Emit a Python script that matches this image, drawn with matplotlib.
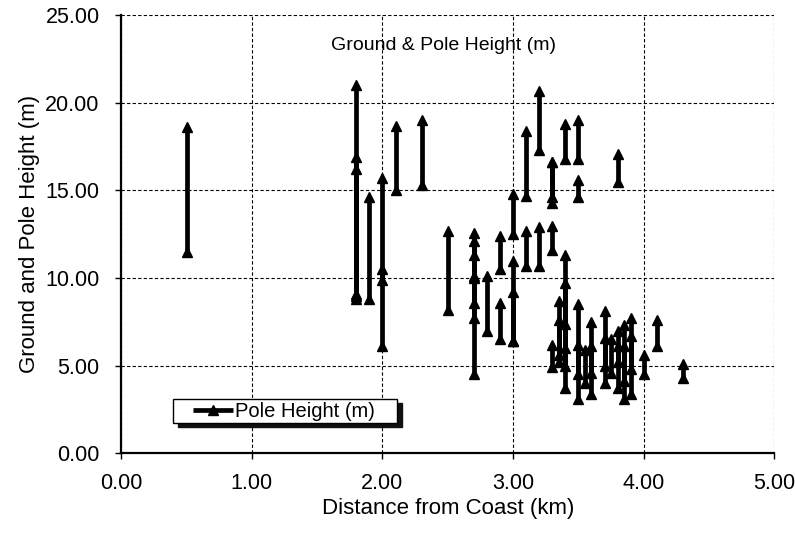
import numpy as np
import matplotlib
matplotlib.use("Agg")
import matplotlib.pyplot as plt
from matplotlib.legend_handler import HandlerLine2D

plt.rcParams['font.family'] = ['Liberation Sans', 'DejaVu Sans']

# Distance from coast (km), ground height (m) and ground + pole height (m)
pole_x = [0.5, 1.8, 1.8, 1.8, 1.9, 2.0, 2.0, 2.1, 2.3, 2.5,
          2.7, 2.7, 2.7, 2.7, 2.8, 2.9, 2.9, 3.0, 3.0, 3.0,
          3.1, 3.1, 3.2, 3.2, 3.3, 3.3, 3.3, 3.3, 3.35, 3.35,
          3.4, 3.4, 3.4, 3.4, 3.5, 3.5, 3.5, 3.5, 3.55, 3.6,
          3.6, 3.7, 3.7, 3.75, 3.8, 3.8, 3.8, 3.85, 3.85, 3.9,
          3.9, 4.0, 4.1, 4.3]
ground_h = [11.5, 8.8, 9.0, 9.1, 8.8, 6.1, 9.9, 15.0, 15.3, 8.2,
            4.5, 7.7, 8.6, 10.0, 7.0, 6.5, 10.5, 6.4, 6.4, 12.5,
            10.7, 14.7, 10.7, 17.3, 11.6, 14.3, 14.6, 4.9, 5.2, 5.6,
            3.7, 5.0, 6.0, 16.8, 3.1, 4.5, 14.6, 16.8, 4.0, 3.4,
            4.6, 4.0, 5.0, 4.6, 3.7, 5.2, 15.5, 3.1, 4.1, 3.4,
            4.8, 4.5, 6.1, 4.3]
top_h = [18.6, 21.0, 16.9, 16.2, 14.6, 10.5, 15.7, 18.7, 19.0, 12.7,
         10.1, 12.6, 11.3, 12.1, 10.1, 8.6, 12.4, 9.2, 11.0, 14.8,
         12.7, 18.4, 12.9, 20.7, 13.0, 16.6, 16.6, 6.2, 8.7, 7.6,
         11.3, 9.7, 7.4, 18.8, 8.5, 6.2, 15.6, 19.0, 5.9, 7.5,
         6.1, 8.1, 6.6, 6.5, 7.0, 6.1, 17.1, 7.3, 6.1, 7.7,
         6.7, 5.6, 7.6, 5.1]

x_ticks = [0, 1, 2, 3, 4, 5]
y_ticks = [0, 5, 10, 15, 20, 25]

# build a broken line: each pole is one vertical segment
xs, ys = [], []
for x, g, t in zip(pole_x, ground_h, top_h):
    xs += [x, x, np.nan]
    ys += [g, t, np.nan]

fig = plt.figure(figsize=(7.95, 5.33), dpi=100)
ax = fig.add_axes([0.1525, 0.150, 0.8215, 0.821])

line, = ax.plot(xs, ys, color='black', lw=3.4, marker='^', markersize=7.5,
                solid_capstyle='butt', label='Pole Height (m)')

ax.set_xlim(0, 5)
ax.set_ylim(0, 25)
ax.set_xticks(x_ticks)
ax.set_yticks(y_ticks)
ax.xaxis.set_major_formatter(plt.FormatStrFormatter('%.2f'))
ax.yaxis.set_major_formatter(plt.FormatStrFormatter('%.2f'))
ax.tick_params(axis='both', direction='out', length=4.5, width=1,
               labelsize=15.5, colors='black')
ax.tick_params(axis='x', pad=10)
ax.tick_params(axis='y', pad=11)
ax.grid(True, color='black', linestyle=(0, (3, 2)), linewidth=0.8)
ax.set_axisbelow(True)
for s in ['top', 'right']:
    ax.spines[s].set_visible(False)
for s in ['left', 'bottom']:
    ax.spines[s].set_linewidth(1.6)

ax.set_xlabel('Distance from Coast (km)', fontsize=16, labelpad=3)
ax.set_ylabel('Ground and Pole Height (m)', fontsize=16, labelpad=4)

ax.text(2.47, 23.3, 'Ground & Pole Height (m)', fontsize=14,
        ha='center', va='center')


class ShiftedHandler(HandlerLine2D):
    def create_artists(self, legend, orig_handle, xdescent, ydescent,
                       width, height, fontsize, trans):
        shift = width * 0.3
        return super().create_artists(legend, orig_handle, xdescent - shift,
                                      ydescent, width - shift, height,
                                      fontsize, trans)


leg = ax.legend(handles=[line], loc='lower left',
                bbox_to_anchor=(0.08, 0.0686, 0.343, 0.055), mode='expand',
                borderaxespad=0, fontsize=14.5, frameon=True, fancybox=False,
                edgecolor='black', framealpha=1, numpoints=1,
                handlelength=2.84, handletextpad=0.1, borderpad=0.12,
                handler_map={line: ShiftedHandler()},
                shadow={'ox': 3, 'oy': -3, 'color': '#111111', 'alpha': 1})
leg.get_frame().set_linewidth(1.0)
for h in leg.legend_handles:
    h.set_linewidth(3.4)

fig.savefig('out.png', dpi=100)
